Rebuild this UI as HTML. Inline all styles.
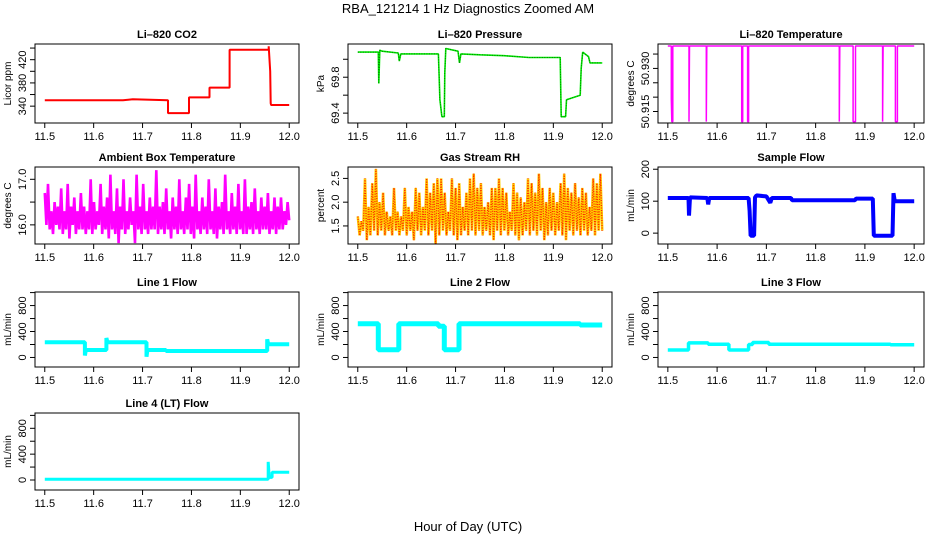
<!DOCTYPE html>
<html><head><meta charset="utf-8">
<style>
html,body{margin:0;padding:0;background:#fff;}
svg{display:block;font-family:"Liberation Sans",Arial,sans-serif;}
</style></head>
<body>
<svg id="chart" width="936" height="540" viewBox="0 0 936 540">
<text x="468" y="13" text-anchor="middle" font-size="13">RBA_121214  1 Hz Diagnostics Zoomed AM</text>
<text x="468" y="531" text-anchor="middle" font-size="13">Hour of Day (UTC)</text>
</svg>
<script>
// ---- data ----
const xTicks = [11.5, 11.6, 11.7, 11.8, 11.9, 12.0];
const xTickLabels = ["11.5", "11.6", "11.7", "11.8", "11.9", "12.0"];

const co2T = [11.5, 11.6, 11.66, 11.68, 11.752, 11.752, 11.795, 11.795, 11.837, 11.837, 11.878, 11.878, 11.9, 11.958, 11.958, 11.961, 11.962, 11.963, 12.0];
const co2V = [350, 350, 350, 352, 350, 328, 328, 355, 355, 372, 372, 437, 437, 437, 443, 400, 345, 342, 342];

const presT = [11.5, 11.542, 11.543, 11.545, 11.55, 11.583, 11.585, 11.588, 11.62, 11.665, 11.668, 11.672, 11.677, 11.678, 11.68, 11.705, 11.708, 11.711, 11.75, 11.8, 11.85, 11.9, 11.914, 11.916, 11.925, 11.927, 11.955, 11.957, 11.96, 11.972, 11.975, 12.0];
const presV = [70.08, 70.08, 69.73, 70.1, 70.09, 70.07, 69.98, 70.06, 70.06, 70.06, 69.55, 69.36, 69.36, 69.85, 70.12, 70.09, 69.96, 70.06, 70.05, 70.04, 70.02, 70.02, 70.02, 69.36, 69.36, 69.55, 69.6, 69.9, 70.08, 70.03, 69.96, 69.96];

const tempT = [11.5, 11.507, 11.507, 11.508, 11.51, 11.51, 11.543, 11.543, 11.544, 11.578, 11.578, 11.579, 11.650, 11.650, 11.652, 11.652, 11.662, 11.662, 11.664, 11.664, 11.848, 11.848, 11.849, 11.876, 11.876, 11.881, 11.881, 11.936, 11.936, 11.937, 11.962, 11.962, 11.966, 11.966, 12.0];
const tempV = [50.9378, 50.9378, 50.9195, 50.9115, 50.9115, 50.9378, 50.9378, 50.9115, 50.9378, 50.9378, 50.9115, 50.9378, 50.9378, 50.9115, 50.9115, 50.9378, 50.9378, 50.9115, 50.9115, 50.9378, 50.9378, 50.9115, 50.9378, 50.9378, 50.9115, 50.9115, 50.9378, 50.9378, 50.9115, 50.9378, 50.9378, 50.9115, 50.9115, 50.9378, 50.9378];

const ambV = [16.7,16.0,16.9,15.9,16.3,15.8,16.5,16.0,16.4,15.9,16.8,15.8,16.3,15.9,16.9,15.7,16.4,16.0,16.6,15.8,16.3,15.9,16.7,15.9,16.4,15.8,16.3,15.9,17.0,15.8,16.5,15.9,16.3,16.0,16.9,15.8,16.4,15.9,16.6,15.7,17.1,15.9,16.3,15.8,16.8,15.6,16.4,15.9,17.0,15.8,16.3,15.9,16.6,16.0,16.3,15.6,17.1,15.9,16.4,15.8,16.9,15.9,16.3,15.8,16.6,15.9,16.4,15.9,17.2,15.8,16.4,15.9,16.5,15.8,16.8,15.9,16.3,15.7,16.6,15.9,16.4,15.8,17.0,15.9,16.3,15.8,16.6,15.9,16.9,15.8,16.4,15.7,17.1,15.9,16.3,15.8,16.6,15.9,16.4,15.8,17.0,15.9,16.3,15.8,16.8,15.7,16.4,15.9,16.5,15.8,17.1,15.9,16.3,15.8,16.7,15.9,16.4,15.8,16.9,15.9,16.3,15.8,17.0,15.8,16.4,15.9,16.5,15.8,16.8,15.9,16.3,15.8,16.6,15.9,16.4,15.9,16.7,15.8,16.3,15.9,16.6,15.8,16.4,15.9,16.6,15.9,16.3,16.0,16.5,16.1];

const rhV = [1.7,1.3,1.6,1.4,2.5,1.2,1.9,1.3,2.4,1.4,2.7,1.3,2.0,1.4,2.2,1.3,1.8,1.4,1.7,1.3,2.3,1.4,1.8,1.3,1.7,1.4,2.3,1.3,1.9,1.4,1.8,1.2,2.3,1.4,2.2,1.3,1.9,1.4,2.5,1.3,2.2,1.4,2.4,1.1,2.5,1.3,2.5,1.4,2.2,1.3,1.8,1.4,2.5,1.3,2.3,1.2,2.4,1.3,1.9,1.4,2.2,1.3,2.5,1.4,2.6,1.3,2.3,1.4,2.4,1.3,1.9,1.4,2.0,1.3,2.3,1.2,2.3,1.4,2.5,1.3,2.3,1.4,2.2,1.3,1.8,1.4,2.4,1.3,2.2,1.2,2.1,1.3,2.0,1.4,2.5,1.3,2.4,1.4,2.2,1.3,2.6,1.4,2.3,1.2,2.0,1.3,2.3,1.4,2.2,1.3,2.0,1.4,2.4,1.3,2.6,1.2,2.3,1.4,2.2,1.3,2.4,1.4,2.1,1.3,2.3,1.4,2.2,1.3,1.9,1.4,2.5,1.3,2.4,1.4,2.6,1.4];

const sampT = [11.5, 11.542, 11.543, 11.545, 11.58, 11.582, 11.584, 11.62, 11.664, 11.666, 11.668, 11.675, 11.677, 11.68, 11.7, 11.708, 11.711, 11.75, 11.752, 11.88, 11.882, 11.916, 11.918, 11.956, 11.958, 11.96, 11.962, 12.0];
const sampV = [110, 110, 55, 112, 110, 90, 110, 110, 110, 70, -8, -8, 112, 118, 115, 95, 110, 110, 103, 103, 108, 108, -8, -8, 125, 105, 100, 100];

const l1T = [11.5, 11.582, 11.582, 11.584, 11.626, 11.626, 11.628, 11.708, 11.708, 11.71, 11.748, 11.748, 11.955, 11.955, 11.957, 12.0];
const l1V = [235, 235, 30, 115, 115, 300, 235, 235, 10, 115, 115, 100, 100, 280, 205, 205];

const l2T = [11.5, 11.542, 11.542, 11.584, 11.584, 11.665, 11.665, 11.677, 11.677, 11.707, 11.707, 11.955, 11.955, 12.0];
const l2V = [520, 520, 120, 120, 520, 520, 480, 480, 120, 120, 520, 520, 500, 500];

const l3T = [11.5, 11.542, 11.542, 11.582, 11.582, 11.624, 11.624, 11.664, 11.664, 11.672, 11.672, 11.705, 11.705, 11.952, 11.952, 12.0];
const l3V = [115, 115, 225, 225, 205, 205, 115, 115, 200, 200, 230, 230, 205, 205, 195, 195];

const l4T = [11.5, 11.957, 11.957, 11.959, 11.965, 11.965, 12.0];
const l4V = [10, 10, 280, 40, 40, 120, 120];

// ---- layout ----
const colL = [35, 348, 658], colR = [299, 612, 924];
const rowT = [44, 167, 292, 413], rowB = [123, 244, 367, 490];
const NS = "http://www.w3.org/2000/svg";
const svg = document.getElementById("chart");

function mk(tag, attrs, parent) {
  const e = document.createElementNS(NS, tag);
  for (const k in attrs) e.setAttribute(k, attrs[k]);
  (parent || svg).appendChild(e);
  return e;
}
function evenT(n) { const a = []; for (let i = 0; i < n; i++) a.push(11.5 + 0.5 * i / (n - 1)); return a; }

function panel(cfg) {
  const L = colL[cfg.c], R = colR[cfg.c], T = rowT[cfg.r], B = rowB[cfg.r];
  const g = mk("g", {});
  
  
  const pad = (R - L) * 0.037;
  const xs = t => L + pad + (t - 11.5) / 0.5 * (R - L - 2 * pad);
  const ys = v => B - (v - cfg.lo) / (cfg.hi - cfg.lo) * (B - T);
  const tt = mk("text", {x: (L + R) / 2, y: T - 6, "text-anchor": "middle", "font-size": 11, "font-weight": "bold"}, g);
  tt.textContent = cfg.title;
  
  
  const clip = "clip-" + cfg.name;
  const cp = mk("clipPath", {id: clip}, g);
  mk("rect", {x: L, y: T, width: R - L, height: B - T}, cp);
  const sg = mk("g", {"clip-path": "url(#" + clip + ")"}, g);
  cfg.series.forEach(s => {
    const pts = s.t.map((t, i) => xs(t).toFixed(1) + "," + ys(s.v[i]).toFixed(1)).join(" ");
    const pl = mk("polyline", {points: pts, fill: "none", stroke: s.color, "stroke-width": s.w, "stroke-linejoin": "bevel"}, sg);
    
    
    if (s.dash) {
      const d = mk("polyline", {points: pts, fill: "none", stroke: s.dash, "stroke-width": s.dw || 1, "stroke-dasharray": "1 1.5"}, sg);
      
      
    }
  });
  const bx = mk("rect", {x: L, y: T, width: R - L, height: B - T, fill: "none", stroke: "#000", "stroke-width": 1}, g);
  
  
  xTicks.forEach((t, i) => {
    const x = xs(t);
    mk("line", {x1: x, y1: B, x2: x, y2: B + 5, stroke: "#000"}, g);
    const lb = mk("text", {x: x, y: B + 17, "text-anchor": "middle", "font-size": 11}, g);
    lb.textContent = xTickLabels[i];
    
    
  });
  cfg.yt.forEach(v => {
    const y = ys(v);
    mk("line", {x1: L - 5, y1: y, x2: L, y2: y, stroke: "#000"}, g);
  });
  cfg.yl.forEach(v => {
    const y = ys(v);
    const lb = mk("text", {x: 0, y: 0, "text-anchor": "middle", "font-size": 11, transform: `translate(${L - 9},${y}) rotate(-90)`}, g);
    lb.textContent = v.toFixed(cfg.dec);
    
    
  });
  const yt = mk("text", {x: 0, y: 0, "text-anchor": "middle", "font-size": 10, transform: `translate(${L - 24},${(T + B) / 2}) rotate(-90)`}, g);
  yt.textContent = cfg.ylab;
  
  
}

const flowT = [0, 200, 400, 600, 800, 1000], flowL = [0, 400, 800];
panel({name: "co2", c: 0, r: 0, title: "Li\u2013820 CO2", ylab: "Licor ppm", lo: 311, hi: 447, dec: 0,
  yt: [340, 360, 380, 400, 420, 440], yl: [340, 380, 420],
  series: [{t: co2T, v: co2V, color: "#ff0000", w: 2}]});
panel({name: "pressure", c: 1, r: 0, title: "Li\u2013820 Pressure", ylab: "kPa", lo: 69.29, hi: 70.17, dec: 1,
  yt: [69.4, 69.6, 69.8, 70.0], yl: [69.4, 69.8],
  series: [{t: presT, v: presV, color: "#00ee00", w: 1.6, dash: "#007a00", dw: 1}]});
panel({name: "temperature", c: 2, r: 0, title: "Li\u2013820 Temperature", ylab: "degrees C", lo: 50.911, hi: 50.9385, dec: 3,
  yt: [50.915, 50.92, 50.925, 50.93, 50.935], yl: [50.915, 50.93],
  series: [{t: tempT, v: tempV, color: "#ff00ff", w: 1.5}]});
panel({name: "ambient", c: 0, r: 1, title: "Ambient Box Temperature", ylab: "degrees C", lo: 15.58, hi: 17.27, dec: 1,
  yt: [16.0, 16.5, 17.0], yl: [16.0, 17.0],
  series: [{t: evenT(ambV.length), v: ambV, color: "#ff00ff", w: 2.6}]});
panel({name: "rh", c: 1, r: 1, title: "Gas Stream RH", ylab: "percent", lo: 1.12, hi: 2.74, dec: 1,
  yt: [1.5, 2.0, 2.5], yl: [1.5, 2.0, 2.5],
  series: [{t: evenT(rhV.length), v: rhV, color: "#ffcc00", w: 2.6, dash: "#ff2200", dw: 1.3}]});
panel({name: "sample-flow", c: 2, r: 1, title: "Sample Flow", ylab: "mL/min", lo: -34, hi: 207, dec: 0,
  yt: [0, 100, 200], yl: [0, 100, 200],
  series: [{t: sampT, v: sampV, color: "#0000ff", w: 4}]});
panel({name: "line1", c: 0, r: 2, title: "Line 1 Flow", ylab: "mL/min", lo: -147, hi: 1009, dec: 0,
  yt: flowT, yl: flowL, series: [{t: l1T, v: l1V, color: "#00ffff", w: 4}]});
panel({name: "line2", c: 1, r: 2, title: "Line 2 Flow", ylab: "mL/min", lo: -147, hi: 1009, dec: 0,
  yt: flowT, yl: flowL, series: [{t: l2T, v: l2V, color: "#00ffff", w: 5}]});
panel({name: "line3", c: 2, r: 2, title: "Line 3 Flow", ylab: "mL/min", lo: -147, hi: 1009, dec: 0,
  yt: flowT, yl: flowL, series: [{t: l3T, v: l3V, color: "#00ffff", w: 3.5}]});
panel({name: "line4", c: 0, r: 3, title: "Line 4 (LT) Flow", ylab: "mL/min", lo: -155, hi: 1037, dec: 0,
  yt: flowT, yl: flowL, series: [{t: l4T, v: l4V, color: "#00ffff", w: 3}]});
</script>
</body></html>
